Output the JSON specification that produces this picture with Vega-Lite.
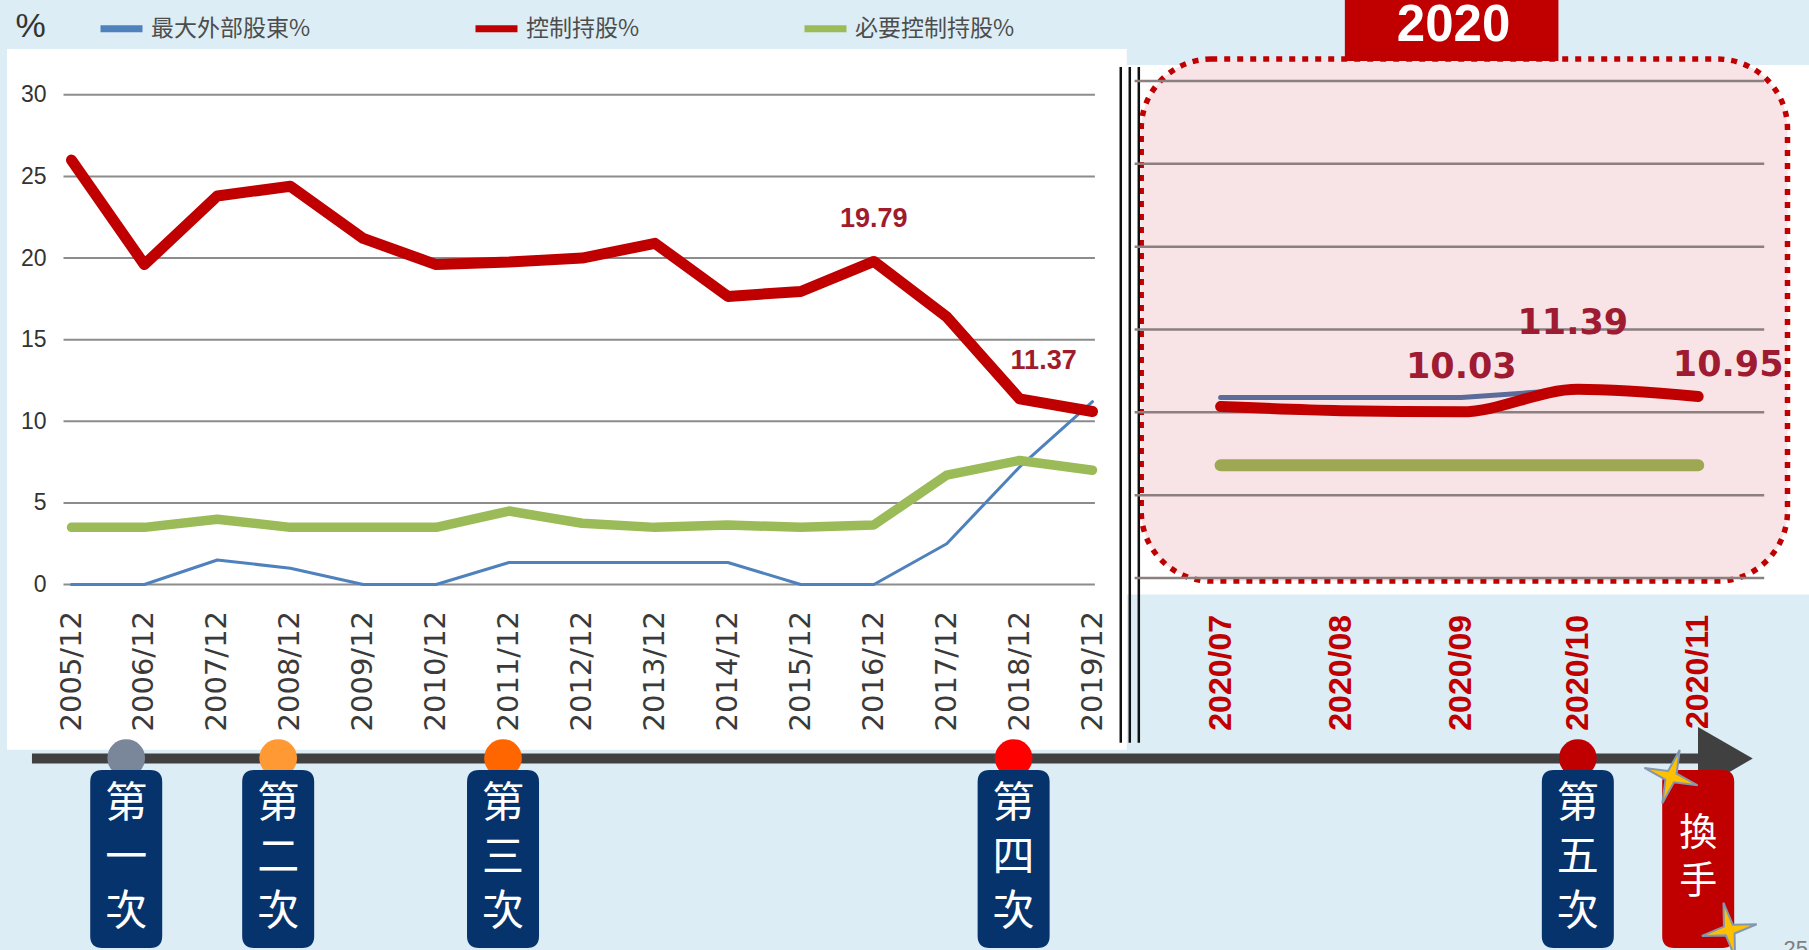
{
 "$schema": "https://vega.github.io/schema/vega-lite/v6.json",
 "width": 1809, "height": 950,
 "autosize": {"type": "none"},
 "padding": 0,
 "background": "#dcedf5",
 "config": {"view": {"stroke": null}, "axisX": {"disable": true}},
 "datasets": {
  "annual": [
   {"period":"2005/12/01","series":"最大外部股東%","value":0},{"period":"2005/12/01","series":"控制持股%","value":26.0},{"period":"2005/12/01","series":"必要控制持股%","value":3.5},
   {"period":"2006/12/01","series":"最大外部股東%","value":0},{"period":"2006/12/01","series":"控制持股%","value":19.6},{"period":"2006/12/01","series":"必要控制持股%","value":3.5},
   {"period":"2007/12/01","series":"最大外部股東%","value":1.5},{"period":"2007/12/01","series":"控制持股%","value":23.8},{"period":"2007/12/01","series":"必要控制持股%","value":4.0},
   {"period":"2008/12/01","series":"最大外部股東%","value":1.0},{"period":"2008/12/01","series":"控制持股%","value":24.4},{"period":"2008/12/01","series":"必要控制持股%","value":3.5},
   {"period":"2009/12/01","series":"最大外部股東%","value":0},{"period":"2009/12/01","series":"控制持股%","value":21.2},{"period":"2009/12/01","series":"必要控制持股%","value":3.5},
   {"period":"2010/12/01","series":"最大外部股東%","value":0},{"period":"2010/12/01","series":"控制持股%","value":19.6},{"period":"2010/12/01","series":"必要控制持股%","value":3.5},
   {"period":"2011/12/01","series":"最大外部股東%","value":1.35},{"period":"2011/12/01","series":"控制持股%","value":19.75},{"period":"2011/12/01","series":"必要控制持股%","value":4.5},
   {"period":"2012/12/01","series":"最大外部股東%","value":1.35},{"period":"2012/12/01","series":"控制持股%","value":20.0},{"period":"2012/12/01","series":"必要控制持股%","value":3.75},
   {"period":"2013/12/01","series":"最大外部股東%","value":1.35},{"period":"2013/12/01","series":"控制持股%","value":20.9},{"period":"2013/12/01","series":"必要控制持股%","value":3.5},
   {"period":"2014/12/01","series":"最大外部股東%","value":1.35},{"period":"2014/12/01","series":"控制持股%","value":17.65},{"period":"2014/12/01","series":"必要控制持股%","value":3.65},
   {"period":"2015/12/01","series":"最大外部股東%","value":0},{"period":"2015/12/01","series":"控制持股%","value":17.95},{"period":"2015/12/01","series":"必要控制持股%","value":3.5},
   {"period":"2016/12/01","series":"最大外部股東%","value":0},{"period":"2016/12/01","series":"控制持股%","value":19.79},{"period":"2016/12/01","series":"必要控制持股%","value":3.65},
   {"period":"2017/12/01","series":"最大外部股東%","value":2.5},{"period":"2017/12/01","series":"控制持股%","value":16.4},{"period":"2017/12/01","series":"必要控制持股%","value":6.7},
   {"period":"2018/12/01","series":"最大外部股東%","value":7.2},{"period":"2018/12/01","series":"控制持股%","value":11.37},{"period":"2018/12/01","series":"必要控制持股%","value":7.6},
   {"period":"2019/12/01","series":"最大外部股東%","value":11.2},{"period":"2019/12/01","series":"控制持股%","value":10.6},{"period":"2019/12/01","series":"必要控制持股%","value":7.0}
  ],
  "monthly": [
   {"period":"2020/07/01","series":"最大外部股東%","value":10.9},{"period":"2020/07/01","series":"控制持股%","value":10.35},{"period":"2020/07/01","series":"必要控制持股%","value":6.8},
   {"period":"2020/08/01","series":"最大外部股東%","value":10.9},{"period":"2020/08/01","series":"控制持股%","value":10.1},{"period":"2020/08/01","series":"必要控制持股%","value":6.8},
   {"period":"2020/09/01","series":"最大外部股東%","value":10.9},{"period":"2020/09/01","series":"控制持股%","value":10.03},{"period":"2020/09/01","series":"必要控制持股%","value":6.8},
   {"period":"2020/10/01","series":"最大外部股東%","value":11.39},{"period":"2020/10/01","series":"控制持股%","value":11.39},{"period":"2020/10/01","series":"必要控制持股%","value":6.8},
   {"period":"2020/11/01","series":"最大外部股東%","value":10.95},{"period":"2020/11/01","series":"控制持股%","value":10.95},{"period":"2020/11/01","series":"必要控制持股%","value":6.8}
  ],
  "events": [
   {"event":"第一次","label":"第\n一\n次","date":"2006/09/01"},
   {"event":"第二次","label":"第\n二\n次","date":"2008/10/01"},
   {"event":"第三次","label":"第\n三\n次","date":"2011/11/01"},
   {"event":"第四次","label":"第\n四\n次","date":"2018/11/01"},
   {"event":"第五次","label":"第\n五\n次","date":"2020/10/01"},
   {"event":"換手","label":"換\n手","date":"2020/11/01"}
  ],
  "ticks": [{"tick":0},{"tick":5},{"tick":10},{"tick":15},{"tick":20},{"tick":25},{"tick":30}]
 },
 "layer": [
  {"layer": [
   {"data":{"values":[{}]},"mark":{"type":"rect","fill":"#ffffff"},
    "encoding":{
     "x":{"datum":{"year":2005,"month":1,"date":12},"type":"temporal","scale":{"domain":{"expr":"[datetime(2005,11,1), datetime(2019,11,1), datetime(2020,6,1), datetime(2020,10,1)]"},"range":[71.5,1092.5,1220.6,1698.2],"nice":false}},
     "x2":{"datum":{"year":2020,"month":1,"date":27}},
     "y":{"datum":32.81,"type":"quantitative","scale":{"domain":[0,30],"range":[584.5,94.8],"nice":false,"zero":false},
      "axis":{"orient":"left","offset":-46,"values":[0,5,10,15,20,25,30],"domain":false,"ticks":false,"tickSize":0,"labelPadding":0,"grid":false,"zindex":2,
       "labelFont":"Liberation Sans","labelFontSize":23,"labelColor":"#333333",
       "title":"%","titleAngle":0,"titleX":-16,"titleY":26,"titleFont":"Liberation Sans","titleFontSize":34,"titleFontWeight":"normal","titleColor":"#333333","titleAlign":"center","titleBaseline":"middle"}},
     "y2":{"datum":-10.13}}},
   {"data":{"values":[{}]},"mark":{"type":"rect","fill":"#ffffff"},
    "encoding":{
     "x":{"datum":{"year":2020,"month":1,"date":27},"type":"temporal"},
     "x2":{"datum":{"year":2020,"month":12,"date":6}},
     "y":{"datum":31.83,"type":"quantitative","scale":{"domain":[0,30],"range":[584.5,94.8],"nice":false,"zero":false}},
     "y2":{"datum":-0.61}}},
   {"data":{"values":[{}]},"mark":{"type":"rect","fill":"#f8e4e6","stroke":"#c00000","strokeWidth":5.5,"strokeDash":[6,7],"cornerRadius":70},
    "encoding":{
     "x":{"datum":{"year":2020,"month":2,"date":20},"type":"temporal"},
     "x2":{"datum":{"year":2020,"month":11,"date":24}},
     "y":{"datum":32.19,"type":"quantitative","scale":{"domain":[0,30],"range":[584.5,94.8],"nice":false,"zero":false}},
     "y2":{"datum":0.21}}},
   {"data":{"name":"ticks"},"mark":{"type":"rule","stroke":"#8c8c8c","strokeWidth":2},
    "encoding":{
     "x":{"datum":{"year":2005,"month":10,"date":22},"type":"temporal"},
     "x2":{"datum":{"year":2019,"month":12,"date":5}},
     "y":{"field":"tick","type":"quantitative","scale":{"domain":[0,30],"range":[584.5,94.8],"nice":false,"zero":false}}}},
   {"data":{"name":"annual"},
    "transform":[{"filter":"datum.series === '最大外部股東%'"}],
    "mark":{"type":"line","strokeWidth":3,"strokeCap":"round","strokeJoin":"round"},
    "encoding":{
     "x":{"field":"period","type":"temporal","axis":null},
     "y":{"field":"value","type":"quantitative","scale":{"domain":[0,30],"range":[584.5,94.8],"nice":false,"zero":false}},
     "color":{"field":"series","type":"nominal","scale":{"domain":["最大外部股東%","控制持股%","必要控制持股%"],"range":["#4f81bd","#c00000","#9bbb59"]},
      "legend":{"orient":"none","legendX":97,"legendY":4,"direction":"horizontal","title":null,"symbolType":"stroke","symbolSize":1764,"symbolStrokeWidth":7,
       "labelFont":"Noto Sans CJK TC","labelFontSize":23,"labelColor":"#4d4d4d","labelOffset":5,"labelLimit":300,"columnPadding":150,"padding":0}}}},
   {"data":{"name":"annual"},
    "transform":[{"filter":"datum.series === '必要控制持股%'"}],
    "mark":{"type":"line","strokeWidth":9.5,"strokeCap":"round","strokeJoin":"round"},
    "encoding":{
     "x":{"field":"period","type":"temporal","axis":null},
     "y":{"field":"value","type":"quantitative","scale":{"domain":[0,30],"range":[584.5,94.8],"nice":false,"zero":false}},
     "color":{"field":"series","type":"nominal","scale":{"domain":["最大外部股東%","控制持股%","必要控制持股%"],"range":["#4f81bd","#c00000","#9bbb59"]}}}},
   {"data":{"name":"annual"},
    "transform":[{"filter":"datum.series === '控制持股%'"}],
    "mark":{"type":"line","strokeWidth":11,"strokeCap":"round","strokeJoin":"round"},
    "encoding":{
     "x":{"field":"period","type":"temporal","axis":null},
     "y":{"field":"value","type":"quantitative","scale":{"domain":[0,30],"range":[584.5,94.8],"nice":false,"zero":false}},
     "color":{"field":"series","type":"nominal","scale":{"domain":["最大外部股東%","控制持股%","必要控制持股%"],"range":["#4f81bd","#c00000","#9bbb59"]}}}},
   {"data":{"name":"annual"},
    "transform":[{"filter":"datum.series === '控制持股%'"}],
    "mark":{"type":"text","angle":270,"align":"right","baseline":"middle","font":"DejaVu Sans","fontSize":29,"fill":"#3a3a3a"},
    "encoding":{
     "x":{"field":"period","type":"temporal","axis":null},
     "y":{"datum":-1.62,"type":"quantitative","scale":{"domain":[0,30],"range":[584.5,94.8],"nice":false,"zero":false}},
     "text":{"field":"period","type":"temporal","format":"%Y/%m"}}},
   {"data":{"name":"monthly"},
    "transform":[{"filter":"datum.series === '控制持股%'"}],
    "mark":{"type":"text","angle":270,"align":"right","baseline":"middle","font":"Liberation Sans","fontWeight":"bold","fontSize":32,"fill":"#c00000"},
    "encoding":{
     "x":{"field":"period","type":"temporal","axis":null},
     "y":{"datum":-1.87,"type":"quantitative","scale":{"domain":[0,30],"range":[584.5,94.8],"nice":false,"zero":false}},
     "text":{"field":"period","type":"temporal","format":"%Y/%m"}}},
   {"data":{"name":"annual"},
    "transform":[{"filter":"datum.series === '控制持股%' && year(datum.period) === 2016"}],
    "mark":{"type":"text","align":"center","baseline":"middle","dy":-42,"font":"Liberation Sans","fontWeight":"bold","fontSize":27,"fill":"#a01c2c"},
    "encoding":{
     "x":{"field":"period","type":"temporal","axis":null},
     "y":{"field":"value","type":"quantitative","scale":{"domain":[0,30],"range":[584.5,94.8],"nice":false,"zero":false}},
     "text":{"field":"value","type":"quantitative","format":".2f"}}},
   {"data":{"name":"annual"},
    "transform":[{"filter":"datum.series === '控制持股%' && year(datum.period) === 2018"}],
    "mark":{"type":"text","align":"center","baseline":"middle","dx":24,"dy":-38,"font":"Liberation Sans","fontWeight":"bold","fontSize":27,"fill":"#a01c2c"},
    "encoding":{
     "x":{"field":"period","type":"temporal","axis":null},
     "y":{"field":"value","type":"quantitative","scale":{"domain":[0,30],"range":[584.5,94.8],"nice":false,"zero":false}},
     "text":{"field":"value","type":"quantitative","format":".2f"}}},
   {"data":{"values":[{}]},"mark":{"type":"rule","stroke":"#404040","strokeWidth":10},
    "encoding":{
     "x":{"datum":{"year":2005,"month":5,"date":17},"type":"temporal"},
     "x2":{"datum":{"year":2020,"month":11,"date":3}},
     "y":{"datum":-10.66,"type":"quantitative","scale":{"domain":[0,30],"range":[584.5,94.8],"nice":false,"zero":false}}}},
   {"data":{"values":[{}]},"mark":{"type":"point","shape":"triangle-right","filled":true,"size":4000,"color":"#404040","opacity":1},
    "encoding":{
     "x":{"datum":{"year":2020,"month":11,"date":8},"type":"temporal"},
     "y":{"datum":-10.66,"type":"quantitative","scale":{"domain":[0,30],"range":[584.5,94.8],"nice":false,"zero":false}}}},
   {"data":{"name":"events"},
    "transform":[{"filter":"datum.event !== '換手'"}],
    "mark":{"type":"point","shape":"circle","filled":true,"size":1420,"opacity":1},
    "encoding":{
     "x":{"field":"date","type":"temporal","axis":null},
     "y":{"datum":-10.63,"type":"quantitative","scale":{"domain":[0,30],"range":[584.5,94.8],"nice":false,"zero":false}},
     "fill":{"field":"event","type":"nominal","legend":null,"scale":{"domain":["第一次","第二次","第三次","第四次","第五次"],"range":["#7a8699","#ff9933","#ff6600","#ff0000","#c00000"]}}}},
   {"data":{"name":"events"},
    "transform":[{"filter":"datum.event !== '換手'"}],
    "mark":{"type":"point","shape":"M-0.27,-1H0.27Q0.4045,-1 0.4045,-0.865V0.865Q0.4045,1 0.27,1H-0.27Q-0.4045,1 -0.4045,0.865V-0.865Q-0.4045,-1 -0.27,-1Z","filled":true,"size":31684,"color":"#06336b","opacity":1},
    "encoding":{
     "x":{"field":"date","type":"temporal","axis":null},
     "y":{"datum":-16.82,"type":"quantitative","scale":{"domain":[0,30],"range":[584.5,94.8],"nice":false,"zero":false}}}},
   {"data":{"name":"events"},
    "transform":[{"filter":"datum.event === '換手'"}],
    "mark":{"type":"point","shape":"M-0.27,-1H0.27Q0.4045,-1 0.4045,-0.865V0.865Q0.4045,1 0.27,1H-0.27Q-0.4045,1 -0.4045,0.865V-0.865Q-0.4045,-1 -0.27,-1Z","filled":true,"size":31684,"color":"#c00000","opacity":1},
    "encoding":{
     "x":{"field":"date","type":"temporal","axis":null},
     "y":{"datum":-16.82,"type":"quantitative","scale":{"domain":[0,30],"range":[584.5,94.8],"nice":false,"zero":false}}}},
   {"data":{"name":"events"},
    "transform":[{"filter":"datum.event !== '換手'"}],
    "mark":{"type":"text","font":"Noto Sans CJK TC","fontSize":42,"lineHeight":54,"lineBreak":"\n","fill":"#ffffff","align":"center","baseline":"middle"},
    "encoding":{
     "x":{"field":"date","type":"temporal","axis":null},
     "y":{"datum":-13.45,"type":"quantitative","scale":{"domain":[0,30],"range":[584.5,94.8],"nice":false,"zero":false}},
     "text":{"field":"label","type":"nominal"}}},
   {"data":{"name":"events"},
    "transform":[{"filter":"datum.event === '換手'"}],
    "mark":{"type":"text","font":"Noto Sans CJK TC","fontSize":38,"lineHeight":48,"lineBreak":"\n","fill":"#ffffff","align":"center","baseline":"middle"},
    "encoding":{
     "x":{"field":"date","type":"temporal","axis":null},
     "y":{"datum":-15.29,"type":"quantitative","scale":{"domain":[0,30],"range":[584.5,94.8],"nice":false,"zero":false}},
     "text":{"field":"label","type":"nominal"}}},
   {"data":{"values":[{}]},"mark":{"type":"point","shape":"M0,-1L0.16,-0.16L1,0L0.16,0.16L0,1L-0.16,0.16L-1,0L-0.16,-0.16Z","filled":true,"size":3136,"fill":"#ffc000","stroke":"#8497b0","strokeWidth":2,"opacity":1,"angle":18},
    "encoding":{
     "x":{"datum":{"year":2020,"month":10,"date":25},"type":"temporal"},
     "y":{"datum":-11.77,"type":"quantitative","scale":{"domain":[0,30],"range":[584.5,94.8],"nice":false,"zero":false}}}},
   {"data":{"values":[{}]},"mark":{"type":"point","shape":"M0,-1L0.16,-0.16L1,0L0.16,0.16L0,1L-0.16,0.16L-1,0L-0.16,-0.16Z","filled":true,"size":3136,"fill":"#ffc000","stroke":"#8497b0","strokeWidth":2,"opacity":1,"angle":-12},
    "encoding":{
     "x":{"datum":{"year":2020,"month":11,"date":9},"type":"temporal"},
     "y":{"datum":-21.17,"type":"quantitative","scale":{"domain":[0,30],"range":[584.5,94.8],"nice":false,"zero":false}}}},
   {"data":{"values":[{}]},"mark":{"type":"rect","fill":"#c00000"},
    "encoding":{
     "x":{"datum":{"year":2020,"month":8,"date":2},"type":"temporal"},
     "x2":{"datum":{"year":2020,"month":9,"date":26}},
     "y":{"datum":36.5,"type":"quantitative","scale":{"domain":[0,30],"range":[584.5,94.8],"nice":false,"zero":false}},
     "y2":{"datum":32.07}}},
   {"data":{"values":[{}]},"mark":{"type":"text","text":"2020","font":"Liberation Sans","fontWeight":"bold","fontSize":51,"fill":"#ffffff","align":"center","baseline":"alphabetic"},
    "encoding":{
     "x":{"datum":{"year":2020,"month":8,"date":30},"type":"temporal"},
     "y":{"datum":33.27,"type":"quantitative","scale":{"domain":[0,30],"range":[584.5,94.8],"nice":false,"zero":false}}}},
   {"data":{"values":[{}]},"mark":{"type":"rule","stroke":"#111111","strokeWidth":2.5},
    "encoding":{
     "x":{"datum":{"year":2020,"month":1,"date":17},"type":"temporal"},
     "y":{"datum":31.7,"type":"quantitative","scale":{"domain":[0,30],"range":[584.5,94.8],"nice":false,"zero":false}},
     "y2":{"datum":-9.7}}},
   {"data":{"values":[{}]},"mark":{"type":"rule","stroke":"#111111","strokeWidth":2.5},
    "encoding":{
     "x":{"datum":{"year":2020,"month":2,"date":1},"type":"temporal"},
     "y":{"datum":31.7,"type":"quantitative","scale":{"domain":[0,30],"range":[584.5,94.8],"nice":false,"zero":false}},
     "y2":{"datum":-9.7}}},
   {"data":{"values":[{}]},"mark":{"type":"rule","stroke":"#111111","strokeWidth":2.5},
    "encoding":{
     "x":{"datum":{"year":2020,"month":2,"date":16},"type":"temporal"},
     "y":{"datum":31.7,"type":"quantitative","scale":{"domain":[0,30],"range":[584.5,94.8],"nice":false,"zero":false}},
     "y2":{"datum":-9.7}}},
   {"data":{"values":[{}]},"mark":{"type":"text","text":"25","font":"Liberation Sans","fontSize":22,"fill":"#7f7f7f","align":"left","baseline":"top"},
    "encoding":{
     "x":{"datum":{"year":2020,"month":11,"date":23},"type":"temporal"},
     "y":{"datum":-21.72,"type":"quantitative","scale":{"domain":[0,30],"range":[584.5,94.8],"nice":false,"zero":false}}}}
  ]},
  {"layer": [
   {"data":{"name":"ticks"},"mark":{"type":"rule","stroke":"#8b7f80","strokeWidth":2.5},
    "encoding":{
     "x":{"datum":{"year":2020,"month":2,"date":9},"type":"temporal"},
     "x2":{"datum":{"year":2020,"month":11,"date":18}},
     "y":{"field":"tick","type":"quantitative","axis":null,"scale":{"domain":[0,30],"range":[578,81],"nice":false,"zero":false}}}},
   {"data":{"name":"monthly"},
    "transform":[{"filter":"datum.series === '最大外部股東%'"}],
    "mark":{"type":"line","stroke":"#5b6c9b","strokeWidth":5,"strokeCap":"round"},
    "encoding":{
     "x":{"field":"period","type":"temporal","axis":null},
     "y":{"field":"value","type":"quantitative","axis":null,"scale":{"domain":[0,30],"range":[578,81],"nice":false,"zero":false}}}},
   {"data":{"name":"monthly"},
    "transform":[{"filter":"datum.series === '必要控制持股%'"}],
    "mark":{"type":"line","stroke":"#9ea752","strokeWidth":12,"strokeCap":"round"},
    "encoding":{
     "x":{"field":"period","type":"temporal","axis":null},
     "y":{"field":"value","type":"quantitative","axis":null,"scale":{"domain":[0,30],"range":[578,81],"nice":false,"zero":false}}}},
   {"data":{"name":"monthly"},
    "transform":[{"filter":"datum.series === '控制持股%'"}],
    "mark":{"type":"line","stroke":"#c00000","strokeWidth":11,"strokeCap":"round","interpolate":"monotone"},
    "encoding":{
     "x":{"field":"period","type":"temporal","axis":null},
     "y":{"field":"value","type":"quantitative","axis":null,"scale":{"domain":[0,30],"range":[578,81],"nice":false,"zero":false}}}},
   {"data":{"name":"monthly"},
    "transform":[{"filter":"datum.series === '控制持股%' && month(datum.period) === 8"}],
    "mark":{"type":"text","align":"center","baseline":"middle","dy":-45,"font":"DejaVu Sans","fontWeight":"bold","fontSize":35,"fill":"#9e1b32"},
    "encoding":{
     "x":{"field":"period","type":"temporal","axis":null},
     "y":{"field":"value","type":"quantitative","axis":null,"scale":{"domain":[0,30],"range":[578,81],"nice":false,"zero":false}},
     "text":{"field":"value","type":"quantitative","format":".2f"}}},
   {"data":{"name":"monthly"},
    "transform":[{"filter":"datum.series === '控制持股%' && month(datum.period) === 9"}],
    "mark":{"type":"text","align":"center","baseline":"middle","dx":-5,"dy":-66,"font":"DejaVu Sans","fontWeight":"bold","fontSize":35,"fill":"#9e1b32"},
    "encoding":{
     "x":{"field":"period","type":"temporal","axis":null},
     "y":{"field":"value","type":"quantitative","axis":null,"scale":{"domain":[0,30],"range":[578,81],"nice":false,"zero":false}},
     "text":{"field":"value","type":"quantitative","format":".2f"}}},
   {"data":{"name":"monthly"},
    "transform":[{"filter":"datum.series === '控制持股%' && month(datum.period) === 10"}],
    "mark":{"type":"text","align":"center","baseline":"middle","dx":30,"dy":-32,"font":"DejaVu Sans","fontWeight":"bold","fontSize":35,"fill":"#9e1b32"},
    "encoding":{
     "x":{"field":"period","type":"temporal","axis":null},
     "y":{"field":"value","type":"quantitative","axis":null,"scale":{"domain":[0,30],"range":[578,81],"nice":false,"zero":false}},
     "text":{"field":"value","type":"quantitative","format":".2f"}}}
  ]}
 ],
 "resolve": {"scale": {"y": "independent"}}
}
